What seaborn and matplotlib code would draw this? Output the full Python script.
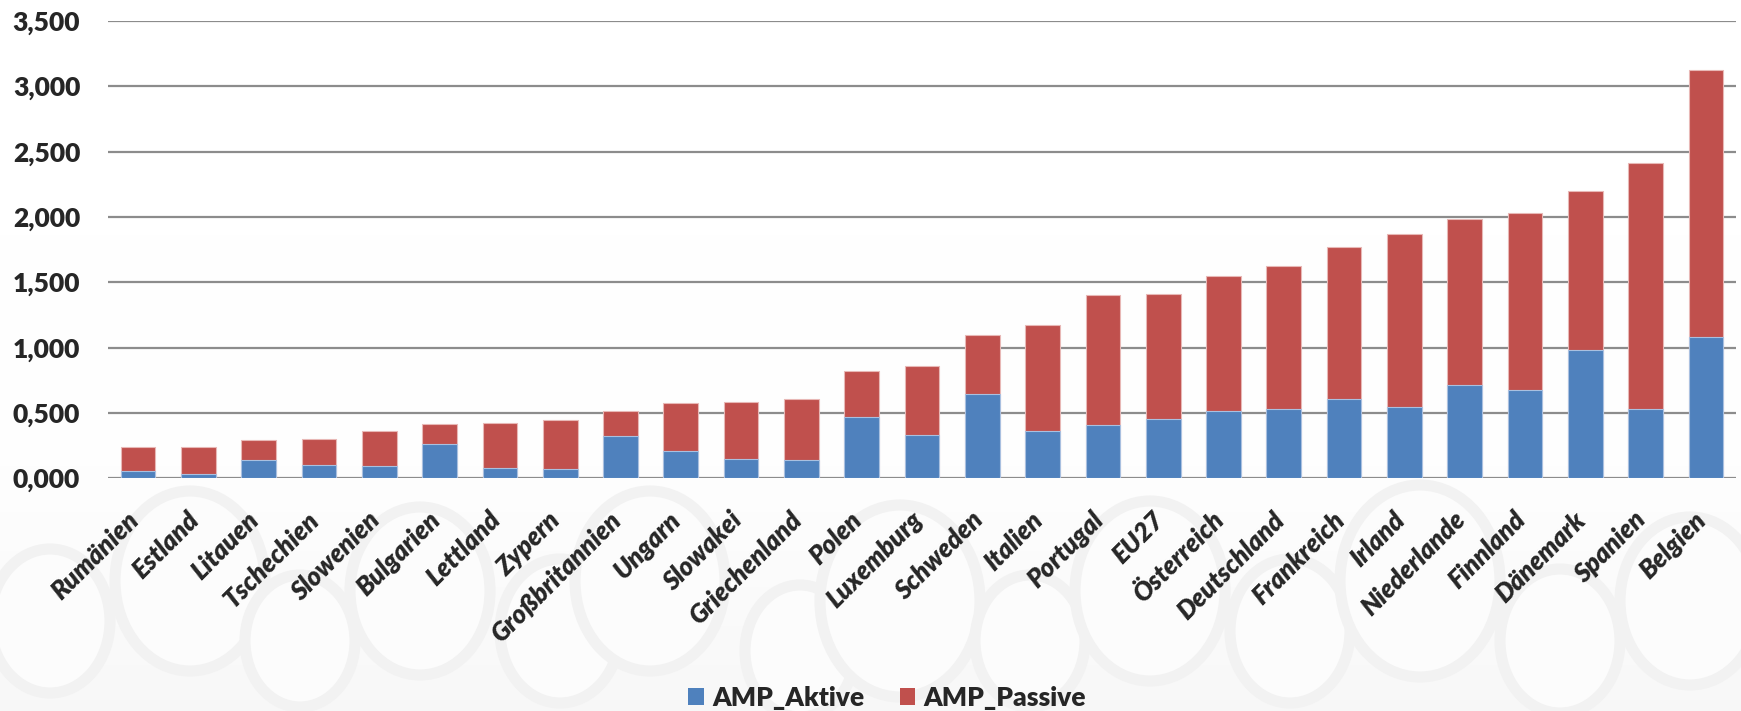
import matplotlib.pyplot as plt
import matplotlib.transforms as mtransforms
import numpy as np
import pandas as pd
import seaborn as sns
from matplotlib.patches import Patch, Ellipse

# Countries, sorted by total spending (as in the reference)
countries = [
    "Rumänien", "Estland", "Litauen", "Tschechien", "Slowenien", "Bulgarien",
    "Lettland", "Zypern", "Großbritannien", "Ungarn", "Slowakei", "Griechenland",
    "Polen", "Luxemburg", "Schweden", "Italien", "Portugal", "EU27",
    "Österreich", "Deutschland", "Frankreich", "Irland", "Niederlande",
    "Finnland", "Dänemark", "Spanien", "Belgien",
]

# Active labour market policy (blue, bottom segment)
amp_aktive = [
    0.058, 0.035, 0.137, 0.102, 0.091, 0.263, 0.076, 0.068, 0.322, 0.209,
    0.148, 0.140, 0.472, 0.334, 0.645, 0.364, 0.408, 0.456, 0.515, 0.531,
    0.607, 0.546, 0.717, 0.676, 0.982, 0.531, 1.082,
]

# Passive labour market policy (red, top segment)
amp_passive = [
    0.179, 0.207, 0.156, 0.199, 0.268, 0.155, 0.350, 0.375, 0.196, 0.370,
    0.433, 0.464, 0.352, 0.526, 0.449, 0.812, 0.992, 0.957, 1.036, 1.097,
    1.166, 1.321, 1.265, 1.358, 1.218, 1.886, 2.044,
]

series_labels = ["AMP_Aktive", "AMP_Passive"]
y_ticks = [0.0, 0.5, 1.0, 1.5, 2.0, 2.5, 3.0, 3.5]

BLUE = "#4F81BD"
RED = "#C0504D"
GRID = "#8c8c8c"
W, H = 1741, 711


def create_chart(file_path):
    df = pd.DataFrame({
        "Land": countries,
        "Aktive": amp_aktive,
        "Passive": amp_passive,
    })
    df["Gesamt"] = df["Aktive"] + df["Passive"]

    sns.set_style("white")
    plt.rcParams["font.family"] = ["Lato", "DejaVu Sans"]

    fig = plt.figure(figsize=(W / 100, H / 100), dpi=100)

    # very light background with faint circles (watermark of the slide)
    bg = fig.add_axes([0, 0, 1, 1], zorder=-5)
    yy = np.linspace(0, 1, 200)
    shade = np.where(yy < 0.33, 0.968 + 0.024 * (yy / 0.33), 0.992 + 0.008 * (yy - 0.33) / 0.67)
    grad = np.repeat(shade[:, None], 2, axis=1)
    bg.imshow(grad, cmap="gray", vmin=0, vmax=1, aspect="auto",
              extent=[0, W, 0, H], origin="lower")
    for cx, cy, r in [(50, 90, 60), (190, 130, 75), (300, 70, 55), (420, 120, 70),
                      (560, 80, 60), (650, 130, 75), (800, 60, 55), (900, 110, 80),
                      (1030, 70, 55), (1150, 120, 75), (1290, 80, 60), (1420, 130, 80),
                      (1560, 70, 60), (1690, 110, 70)]:
        bg.add_patch(Ellipse((cx, cy), 2 * r, 2.4 * r, facecolor="#fcfcfc",
                             edgecolor="#f2f2f2", lw=8))
    bg.set_xlim(0, W)
    bg.set_ylim(0, H)
    bg.axis("off")

    ax = fig.add_axes([108 / W, (H - 478.3) / H, (1736 - 108) / W, (478.3 - 21) / H])
    ax.set_facecolor("none")

    # totals first (red), then the active share on top of it (blue)
    sns.barplot(data=df, x="Land", y="Gesamt", color=RED, saturation=1,
                width=0.575, edgecolor="#e8b8b6", linewidth=0.8, ax=ax, zorder=3)
    sns.barplot(data=df, x="Land", y="Aktive", color=BLUE, saturation=1,
                width=0.575, edgecolor="#a9c0e0", linewidth=0.8, ax=ax, zorder=4)

    ax.set_xlim(-0.5, len(countries) - 0.5)
    ax.set_ylim(0, 3.5)
    ax.set_yticks(y_ticks)
    ax.set_yticklabels([f"{v:.3f}".replace(".", ",") for v in y_ticks],
                       fontsize=19, fontweight="heavy")
    ax.yaxis.grid(True, color=GRID, linewidth=1.6, zorder=0)
    ax.set_axisbelow(True)
    for side in ["top", "right", "left", "bottom"]:
        ax.spines[side].set_visible(False)
    ax.tick_params(axis="both", length=0)
    ax.tick_params(axis="y", pad=20)

    ax.set_xticks(range(len(countries)))
    ax.set_xticklabels(countries, rotation=45, ha="right", rotation_mode="anchor",
                       fontsize=18.5, fontweight="heavy", fontstyle="italic")
    ax.tick_params(axis="x", pad=21)
    # nudge the rotated labels a bit to the left, like the original
    shift = mtransforms.ScaledTranslation(-12 / 100, 0, fig.dpi_scale_trans)
    for lbl in ax.get_xticklabels():
        lbl.set_transform(lbl.get_transform() + shift)
    ax.set_xlabel("")
    ax.set_ylabel("")

    handles = [Patch(facecolor=BLUE, edgecolor="none"),
               Patch(facecolor=RED, edgecolor="none")]
    fig.legend(handles, series_labels, loc="center", bbox_to_anchor=(887 / W, 1 - 698 / H),
               ncol=2, frameon=False, handlelength=0.6, handleheight=0.6,
               handletextpad=0.3, columnspacing=1.35,
               prop={"size": 19, "weight": "heavy"})

    plt.savefig(file_path, dpi=100)


if __name__ == "__main__":
    create_chart("out.png")
